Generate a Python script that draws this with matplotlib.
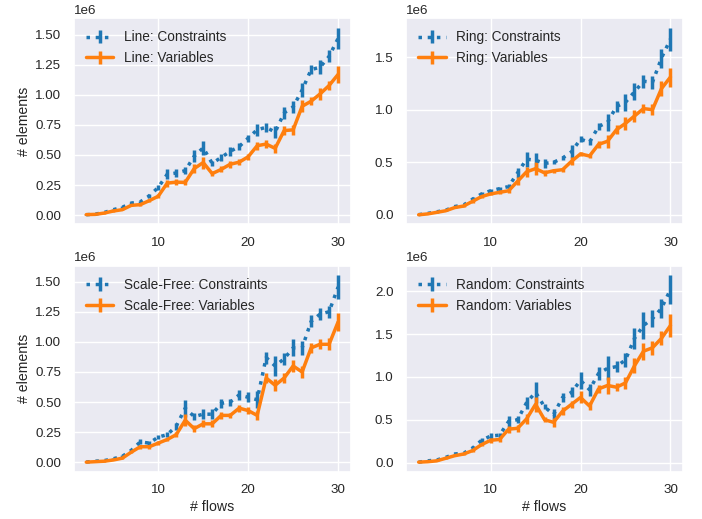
import numpy as np
import matplotlib
matplotlib.use("Agg")
import matplotlib.pyplot as plt
import seaborn as sns

sns.set_theme(style="darkgrid")
plt.rcParams['font.family'] = ['Liberation Sans', 'DejaVu Sans']

flows = list(range(2, 31))

# mean number of constraints / variables per topology (x 1e6), with std errors
line_cons = [0.003, 0.008, 0.022, 0.045, 0.065, 0.10, 0.11, 0.16, 0.23, 0.34, 0.35, 0.37, 0.49, 0.56,
             0.43, 0.48, 0.53, 0.57, 0.64, 0.71, 0.73, 0.69, 0.85, 0.90, 1.04, 1.21, 1.23, 1.32, 1.47]
line_cons_err = [0.002, 0.003, 0.005, 0.006, 0.008, 0.01, 0.01, 0.015, 0.02, 0.04, 0.03, 0.03, 0.05, 0.06,
                 0.02, 0.03, 0.04, 0.03, 0.03, 0.05, 0.04, 0.05, 0.05, 0.05, 0.06, 0.04, 0.06, 0.05, 0.09]
line_vars = [0.004, 0.006, 0.017, 0.034, 0.045, 0.081, 0.087, 0.12, 0.157, 0.266, 0.274, 0.272, 0.387, 0.437,
             0.345, 0.38, 0.423, 0.44, 0.485, 0.577, 0.591, 0.555, 0.703, 0.709, 0.905, 0.947, 1.008, 1.078, 1.17]
line_vars_err = [0.002, 0.003, 0.004, 0.005, 0.006, 0.008, 0.008, 0.01, 0.015, 0.03, 0.025, 0.025, 0.04, 0.05,
                 0.02, 0.025, 0.03, 0.025, 0.025, 0.035, 0.03, 0.04, 0.04, 0.04, 0.05, 0.035, 0.05, 0.04, 0.07]

ring_cons = [0.003, 0.015, 0.03, 0.045, 0.08, 0.095, 0.15, 0.20, 0.23, 0.25, 0.27, 0.40, 0.53, 0.52,
             0.49, 0.50, 0.54, 0.60, 0.72, 0.69, 0.84, 0.88, 1.03, 1.07, 1.17, 1.27, 1.26, 1.49, 1.67]
ring_cons_err = [0.002, 0.004, 0.005, 0.006, 0.01, 0.01, 0.02, 0.02, 0.02, 0.02, 0.02, 0.05, 0.07, 0.07,
                 0.04, 0.02, 0.02, 0.06, 0.03, 0.03, 0.03, 0.08, 0.05, 0.08, 0.08, 0.06, 0.06, 0.09, 0.11]
ring_vars = [0.002, 0.01, 0.025, 0.04, 0.07, 0.085, 0.13, 0.175, 0.20, 0.215, 0.23, 0.32, 0.41, 0.44,
             0.40, 0.42, 0.43, 0.51, 0.58, 0.56, 0.67, 0.70, 0.81, 0.87, 0.94, 1.01, 1.00, 1.20, 1.31]
ring_vars_err = [0.002, 0.003, 0.004, 0.005, 0.008, 0.008, 0.015, 0.015, 0.015, 0.02, 0.02, 0.04, 0.05, 0.06,
                 0.03, 0.02, 0.02, 0.04, 0.02, 0.02, 0.03, 0.06, 0.04, 0.06, 0.06, 0.04, 0.05, 0.07, 0.09]

sf_cons = [0.003, 0.01, 0.015, 0.03, 0.05, 0.10, 0.17, 0.16, 0.21, 0.23, 0.30, 0.45, 0.38, 0.40,
           0.40, 0.49, 0.50, 0.56, 0.54, 0.52, 0.87, 0.80, 0.86, 0.95, 0.95, 1.17, 1.23, 1.25, 1.455]
sf_cons_err = [0.002, 0.003, 0.004, 0.005, 0.008, 0.015, 0.02, 0.02, 0.02, 0.02, 0.03, 0.07, 0.03, 0.04,
               0.04, 0.04, 0.03, 0.04, 0.04, 0.07, 0.05, 0.08, 0.05, 0.07, 0.06, 0.05, 0.05, 0.05, 0.10]
sf_vars = [0.002, 0.006, 0.01, 0.02, 0.035, 0.085, 0.13, 0.13, 0.16, 0.19, 0.23, 0.35, 0.28, 0.32,
           0.32, 0.39, 0.39, 0.45, 0.43, 0.39, 0.70, 0.64, 0.70, 0.80, 0.75, 0.95, 0.98, 0.98, 1.165]
sf_vars_err = [0.002, 0.003, 0.003, 0.004, 0.006, 0.01, 0.015, 0.015, 0.015, 0.015, 0.02, 0.05, 0.03, 0.03,
               0.03, 0.03, 0.02, 0.03, 0.03, 0.04, 0.04, 0.05, 0.04, 0.05, 0.05, 0.04, 0.04, 0.05, 0.075]

rand_cons = [0.005, 0.02, 0.03, 0.06, 0.10, 0.11, 0.17, 0.26, 0.31, 0.32, 0.48, 0.50, 0.70, 0.82,
             0.65, 0.56, 0.76, 0.82, 0.96, 0.85, 1.04, 1.10, 1.12, 1.20, 1.45, 1.60, 1.68, 1.80, 2.02]
rand_cons_err = [0.003, 0.005, 0.006, 0.008, 0.01, 0.01, 0.02, 0.03, 0.04, 0.03, 0.06, 0.04, 0.07, 0.12,
                 0.03, 0.06, 0.05, 0.06, 0.10, 0.07, 0.08, 0.14, 0.06, 0.08, 0.12, 0.16, 0.10, 0.11, 0.17]
rand_vars = [0.005, 0.01, 0.02, 0.05, 0.08, 0.10, 0.14, 0.21, 0.26, 0.27, 0.39, 0.40, 0.51, 0.68,
             0.50, 0.47, 0.60, 0.68, 0.76, 0.66, 0.86, 0.90, 0.88, 0.93, 1.13, 1.30, 1.34, 1.45, 1.60]
rand_vars_err = [0.003, 0.004, 0.005, 0.006, 0.008, 0.01, 0.015, 0.02, 0.03, 0.03, 0.04, 0.04, 0.06, 0.09,
                 0.03, 0.05, 0.05, 0.04, 0.07, 0.05, 0.05, 0.10, 0.05, 0.07, 0.09, 0.10, 0.08, 0.08, 0.14]

topologies = ["Line", "Ring", "Scale-Free", "Random"]
cons = [line_cons, ring_cons, sf_cons, rand_cons]
cons_err = [line_cons_err, ring_cons_err, sf_cons_err, rand_cons_err]
vars_ = [line_vars, ring_vars, sf_vars, rand_vars]
vars_err = [line_vars_err, ring_vars_err, sf_vars_err, rand_vars_err]

fig, axes = plt.subplots(2, 2, figsize=(7.02, 5.19), dpi=100)
for i, ax in enumerate(axes.flat):
    c = np.array(cons[i]) * 1e6
    ce = np.array(cons_err[i]) * 1e6
    v = np.array(vars_[i]) * 1e6
    ve = np.array(vars_err[i]) * 1e6
    ax.errorbar(flows, c, yerr=ce, linestyle=":", linewidth=2.5, elinewidth=2.5,
                color="tab:blue", label=topologies[i] + ": Constraints")
    ax.errorbar(flows, v, yerr=ve, linestyle="-", linewidth=2.5, elinewidth=2.5,
                color="tab:orange", label=topologies[i] + ": Variables")
    ax.legend(loc="upper left", frameon=False, fontsize=9.8)
    ax.tick_params(labelsize=9.6, pad=3)
    ax.yaxis.get_offset_text().set_fontsize(9.6)
    ax.set_xticks([10, 20, 30])
    if i % 2 == 0:
        ax.set_ylabel("# elements", fontsize=10.2, labelpad=3)
    if i >= 2:
        ax.set_xlabel("# flows", fontsize=10.2, labelpad=3)

axes[0, 0].set_yticks([0, 0.25e6, 0.5e6, 0.75e6, 1e6, 1.25e6, 1.5e6])
axes[1, 0].set_yticks([0, 0.25e6, 0.5e6, 0.75e6, 1e6, 1.25e6, 1.5e6])

fig.subplots_adjust(left=0.105, right=0.973, top=0.965, bottom=0.091, wspace=0.2, hspace=0.2)
fig.savefig("out.png")
